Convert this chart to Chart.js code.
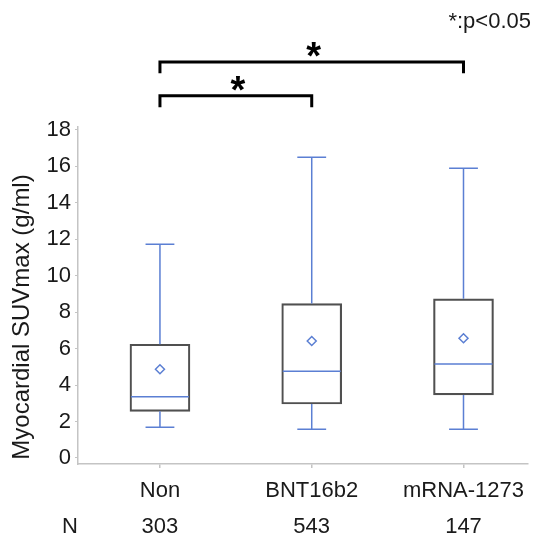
<!DOCTYPE html>
<html><head><meta charset="utf-8">
<script src="https://cdn.jsdelivr.net/npm/chart.js@4.4.0/dist/chart.umd.min.js"></script>
<style>html,body{margin:0;padding:0;background:#fff}#wrap{width:534px;height:540px}</style>
</head><body><div id="wrap"><canvas id="c" width="534" height="540"></canvas></div>
<script>
const categories = ['Non', 'BNT16b2', 'mRNA-1273'];
const nCounts = [303, 543, 147];
const whiskerLow = [1.68, 1.58, 1.58];
const q1 = [2.56, 2.96, 3.46];
const median = [3.36, 4.76, 5.16];
const q3 = [6.24, 8.47, 8.73];
const whiskerHigh = [11.73, 16.5, 15.9];
const means = [4.87, 6.42, 6.57];
const yTicks = [0, 2, 4, 6, 8, 10, 12, 14, 16, 18];
const comparisons = [
  { from: 0, to: 1, label: '*' },
  { from: 0, to: 2, label: '*' }
];

const FONT = "'Liberation Sans', Arial, sans-serif";
const BLUE = '#5b7fd3';
const AXIS = '#c4c4c4';
const TEXT = '#1a1a1a';

const boxPlugin = {
  id: 'boxParts',
  afterDatasetsDraw(chart) {
    const ctx = chart.ctx, xs = chart.scales.x, ys = chart.scales.y;
    const meta = chart.getDatasetMeta(0);
    ctx.save();
    ctx.strokeStyle = BLUE;
    ctx.lineWidth = 1.5;
    categories.forEach((c, i) => {
      const bar = meta.data[i];
      const cx = xs.getPixelForValue(i + 1);
      const capL = xs.getPixelForValue(i + 1 - 0.095), capR = xs.getPixelForValue(i + 1 + 0.095);
      const yLo = ys.getPixelForValue(whiskerLow[i]), yQ1 = ys.getPixelForValue(q1[i]);
      const yQ3 = ys.getPixelForValue(q3[i]), yHi = ys.getPixelForValue(whiskerHigh[i]);
      const yMed = ys.getPixelForValue(median[i]);
      ctx.beginPath();
      ctx.moveTo(cx, yQ1); ctx.lineTo(cx, yLo);
      ctx.moveTo(capL, yLo); ctx.lineTo(capR, yLo);
      ctx.moveTo(cx, yQ3); ctx.lineTo(cx, yHi);
      ctx.moveTo(capL, yHi); ctx.lineTo(capR, yHi);
      ctx.moveTo(bar.x - bar.width / 2 + 1, yMed); ctx.lineTo(bar.x + bar.width / 2 - 1, yMed);
      ctx.stroke();
    });
    ctx.restore();
  }
};

const annotPlugin = {
  id: 'annot',
  afterDraw(chart, args, opts) {
    const ctx = chart.ctx, xs = chart.scales.x, ys = chart.scales.y;
    ctx.save();
    ctx.strokeStyle = '#000';
    ctx.fillStyle = '#000';
    ctx.lineWidth = 3;
    comparisons.forEach((cmp, k) => {
      const lvl = opts.levels[k];
      const xa = xs.getPixelForValue(cmp.from + 1), xb = xs.getPixelForValue(cmp.to + 1);
      const yt = ys.getPixelForValue(lvl), yb = ys.getPixelForValue(lvl - opts.drop);
      ctx.beginPath();
      ctx.moveTo(xa, yb); ctx.lineTo(xa, yt); ctx.lineTo(xb, yt); ctx.lineTo(xb, yb);
      ctx.stroke();
      ctx.font = 'bold 38px ' + FONT;
      ctx.textAlign = 'center';
      ctx.textBaseline = 'alphabetic';
      const m = ctx.measureText(cmp.label);
      const cy = yt - 12;
      const base = cy + (m.actualBoundingBoxAscent - m.actualBoundingBoxDescent) / 2;
      ctx.fillText(cmp.label, (xa + xb) / 2 + 2, base);
    });
    ctx.font = '22px ' + FONT;
    ctx.fillStyle = TEXT;
    ctx.textAlign = 'right';
    ctx.textBaseline = 'middle';
    ctx.fillText('*:p<0.05', 531, 22);
    ctx.font = '22px ' + FONT;
    ctx.textAlign = 'center';
    ctx.fillText('N', 70, 527);
    nCounts.forEach((n, i) => ctx.fillText(String(n), xs.getPixelForValue(i + 1), 527));
    ctx.translate(22, 317);
    ctx.rotate(-Math.PI / 2);
    ctx.font = '24px ' + FONT;
    ctx.fillText('Myocardial SUVmax (g/ml)', 0, 0);
    ctx.restore();
  }
};

new Chart(document.getElementById('c'), {
  data: {
    datasets: [
      {
        type: 'bar',
        data: categories.map((c, i) => ({ x: i + 1, y: [q1[i], q3[i]] })),
        backgroundColor: 'rgba(0,0,0,0)',
        borderColor: '#505050',
        borderWidth: 1.5,
        borderSkipped: false,
        barThickness: 60
      },
      {
        type: 'scatter',
        data: means.map((m, i) => ({ x: i + 1, y: m })),
        pointStyle: 'rectRot',
        radius: 4.5,
        borderColor: BLUE,
        borderWidth: 1.5,
        backgroundColor: '#fff'
      }
    ]
  },
  options: {
    responsive: false,
    animation: false,
    events: [],
    layout: { padding: { left: 0, top: 127, right: 1, bottom: 0 } },
    plugins: { legend: { display: false }, tooltip: { enabled: false }, annot: { levels: [19.87, 21.73], drop: 0.62 } },
    scales: {
      x: {
        type: 'linear', min: 0.46, max: 3.425, offset: false,
        afterBuildTicks: s => { s.ticks = categories.map((c, i) => ({ value: i + 1 })); },
        afterFit: s => { s.height = 76; s.paddingLeft = 0; s.paddingRight = 0; },
        ticks: { callback: v => categories[v - 1] ?? '', font: { family: FONT, size: 22 }, color: TEXT, padding: 10, maxRotation: 0, autoSkip: false },
        grid: { display: true, offset: false, drawOnChartArea: false, tickLength: 4, color: AXIS, lineWidth: 1.5 },
        border: { color: AXIS, width: 1.5 }
      },
      y: {
        min: -0.33, max: 18.16,
        afterBuildTicks: s => { s.ticks = yTicks.map(v => ({ value: v })); },
        afterFit: s => { s.width = 78; s.paddingTop = 0; s.paddingBottom = 0; },
        ticks: { font: { family: FONT, size: 22 }, color: TEXT, padding: 4 },
        grid: { display: true, drawOnChartArea: false, tickLength: 3, color: AXIS, lineWidth: 1 },
        border: { color: AXIS, width: 1.5 }
      }
    }
  },
  plugins: [boxPlugin, annotPlugin]
});
</script></body></html>
